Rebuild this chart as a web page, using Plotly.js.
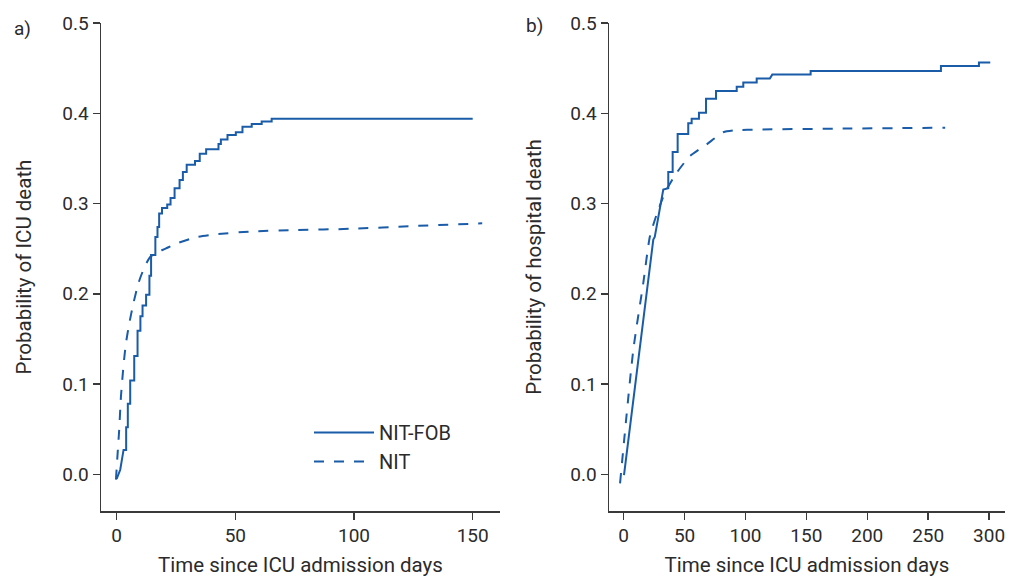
<!DOCTYPE html>
<html>
<head>
<meta charset="utf-8">
<script src="https://cdn.plot.ly/plotly-3.0.1.min.js"></script>
<style>html,body{margin:0;padding:0;background:#fff;}#chart{width:1017px;height:577px;}</style>
</head>
<body>
<div id="chart"></div>
<script>
// ---- Panel a) ICU death ----
// NIT-FOB: initial ramp then step function
const icuFobRampDays = [0, 1.5, 2.9, 4.0];
const icuFobRampProb = [-0.005, 0.005, 0.027, 0.027];
const icuFobStepDays = [4.0, 4.7, 5.7, 7.4, 8.8, 10.0, 10.9, 12.4, 13.8, 14.5, 16.3, 17.2, 17.9, 19.1, 21.3, 22.7, 24.4, 26.5, 27.9, 29.5, 33.0, 35.0, 37.7, 42.9, 43.9, 46.7, 50.2, 53.0, 56.9, 61.1, 65.3];
const icuFobStepProb = [0.052, 0.078, 0.104, 0.131, 0.159, 0.175, 0.187, 0.199, 0.220, 0.243, 0.263, 0.274, 0.289, 0.295, 0.299, 0.306, 0.317, 0.326, 0.335, 0.343, 0.347, 0.355, 0.360, 0.366, 0.371, 0.376, 0.379, 0.385, 0.388, 0.391, 0.394];
const icuFobEndDay = 150;
// NIT: smooth curve
const icuNitDays = [-0.3, 0.5, 1.06, 1.8, 2.9, 3.9, 5.3, 7.1, 9.2, 11.8, 14.2, 16.3, 20.6, 25.5, 34, 42.5, 56.6, 75, 99, 125, 154];
const icuNitProb = [-0.006, 0.027, 0.049, 0.086, 0.121, 0.145, 0.167, 0.190, 0.212, 0.230, 0.241, 0.245, 0.250, 0.256, 0.263, 0.266, 0.269, 0.2705, 0.272, 0.275, 0.278];

// ---- Panel b) hospital death ----
const hospFobRampDays = [0.25, 24.3, 25.5, 32.5, 36.6];
const hospFobRampProb = [-0.001, 0.260, 0.263, 0.3155, 0.317];
const hospFobStepDays = [36.6, 40.2, 44.3, 53.0, 55.8, 61.8, 67.6, 75.8, 92.8, 98.2, 109.2, 153.5, 260.5, 291.7];
const hospFobStepProb = [0.335, 0.357, 0.377, 0.389, 0.394, 0.4006, 0.416, 0.4246, 0.4295, 0.434, 0.4384, 0.4468, 0.4524, 0.4562];
const hospFobSlantDays = [120, 122];
const hospFobSlantProb = [0.4384, 0.4428];
const hospFobEndDay = 301;
const hospNitDays = [-3, 7.9, 16.1, 21.6, 28.4, 33.9, 43.5, 54.4, 68.1, 81.8, 90, 111, 180, 264];
const hospNitProb = [-0.010, 0.138, 0.212, 0.264, 0.293, 0.312, 0.334, 0.3525, 0.3655, 0.379, 0.381, 0.382, 0.383, 0.384];

const seriesNames = ['NIT-FOB', 'NIT'];
const panelLabels = ['a)', 'b)'];
const xTitle = 'Time since ICU admission days';
const yTitles = ['Probability of ICU death', 'Probability of hospital death'];
const yTicks = [0, 0.1, 0.2, 0.3, 0.4, 0.5];
const xTicksA = [0, 50, 100, 150];
const xTicksB = [0, 50, 100, 150, 200, 250, 300];

// Build step corner paths from the read step lists
function buildStep(rampX, rampY, stepX, stepY, endX, extra) {
  const xs = rampX.slice(), ys = rampY.slice();
  let prev = ys[ys.length - 1];
  for (let i = 0; i < stepX.length; i++) {
    if (extra && stepX[i] > extra.x[0] && xs[xs.length - 1] < extra.x[0]) {
      xs.push(extra.x[0]); ys.push(extra.y[0]);
      xs.push(extra.x[1]); ys.push(extra.y[1]);
      prev = extra.y[1];
    }
    xs.push(stepX[i]); ys.push(prev);
    xs.push(stepX[i]); ys.push(stepY[i]);
    prev = stepY[i];
  }
  xs.push(endX); ys.push(prev);
  return {x: xs, y: ys};
}

const COLOR = '#1a5ca8';
const AX = '#3a3a3a';
const FONT = 'Roboto, "DejaVu Sans", sans-serif';
const TXT = '#2b2b2b';

const fobA = buildStep(icuFobRampDays, icuFobRampProb, icuFobStepDays, icuFobStepProb, icuFobEndDay);
const fobB = buildStep(hospFobRampDays, hospFobRampProb, hospFobStepDays, hospFobStepProb, hospFobEndDay, {x: hospFobSlantDays, y: hospFobSlantProb});

const traces = [
  {x: fobA.x, y: fobA.y, xaxis: 'x', yaxis: 'y', mode: 'lines', name: seriesNames[0],
   line: {color: COLOR, width: 2}, showlegend: true},
  {x: icuNitDays, y: icuNitProb, xaxis: 'x', yaxis: 'y', mode: 'lines', name: seriesNames[1],
   line: {color: COLOR, width: 2, dash: '10px,10px', shape: 'spline', smoothing: 0.6}, showlegend: true},
  {x: fobB.x, y: fobB.y, xaxis: 'x2', yaxis: 'y2', mode: 'lines', name: seriesNames[0],
   line: {color: COLOR, width: 2}, showlegend: false},
  {x: hospNitDays, y: hospNitProb, xaxis: 'x2', yaxis: 'y2', mode: 'lines', name: seriesNames[1],
   line: {color: COLOR, width: 2, dash: '10px,10px', shape: 'spline', smoothing: 0.6}, showlegend: false}
];

const W = 1017, H = 577;
function axCommon() {
  return {
    showline: true, linecolor: AX, linewidth: 1.5, showgrid: false, zeroline: false,
    ticks: 'outside', ticklen: 7, tickwidth: 1.5, tickcolor: AX,
    tickfont: {family: FONT, size: 19, color: TXT}, automargin: false
  };
}
const titleFont = {family: FONT, size: 20.5, color: TXT};

const layout = {
  width: W, height: H,
  margin: {l: 0, r: 0, t: 0, b: 0},
  paper_bgcolor: '#fff', plot_bgcolor: '#fff',
  font: {family: FONT, color: TXT},
  showlegend: true,
  legend: {x: 309 / W, y: 1 - 413 / H, xanchor: 'left', yanchor: 'top', itemwidth: 60,
           bgcolor: 'rgba(0,0,0,0)', font: {family: FONT, size: 20, color: TXT}, tracegroupgap: 0},
  xaxis: Object.assign(axCommon(), {domain: [101 / W, 500 / W], range: [-6.6, 161.5], tickvals: xTicksA,
    title: {text: xTitle, font: titleFont, standoff: 12}, anchor: 'y'}),
  yaxis: Object.assign(axCommon(), {domain: [1 - 511 / H, 1 - 23 / H], range: [-0.0407, 0.5], tickvals: yTicks,
    tickformat: '.1f', title: {text: yTitles[0], font: titleFont, standoff: 25}, anchor: 'x'}),
  xaxis2: Object.assign(axCommon(), {domain: [609 / W, 1005 / W], range: [-12.07, 313.1], tickvals: xTicksB,
    title: {text: xTitle, font: titleFont, standoff: 12}, anchor: 'y2'}),
  yaxis2: Object.assign(axCommon(), {domain: [1 - 511 / H, 1 - 23 / H], range: [-0.0407, 0.5], tickvals: yTicks,
    tickformat: '.1f', title: {text: yTitles[1], font: titleFont, standoff: 23}, anchor: 'x2'}),
  annotations: [
    {text: panelLabels[0], xref: 'paper', yref: 'paper', x: 22 / W, y: 1 - 28 / H, showarrow: false,
     xanchor: 'center', yanchor: 'middle', font: {family: FONT, size: 19, color: TXT}},
    {text: panelLabels[1], xref: 'paper', yref: 'paper', x: 534 / W, y: 1 - 26 / H, showarrow: false,
     xanchor: 'center', yanchor: 'middle', font: {family: FONT, size: 19, color: TXT}}
  ]
};

Plotly.newPlot('chart', traces, layout, {staticPlot: true, displayModeBar: false});
</script>
</body>
</html>
